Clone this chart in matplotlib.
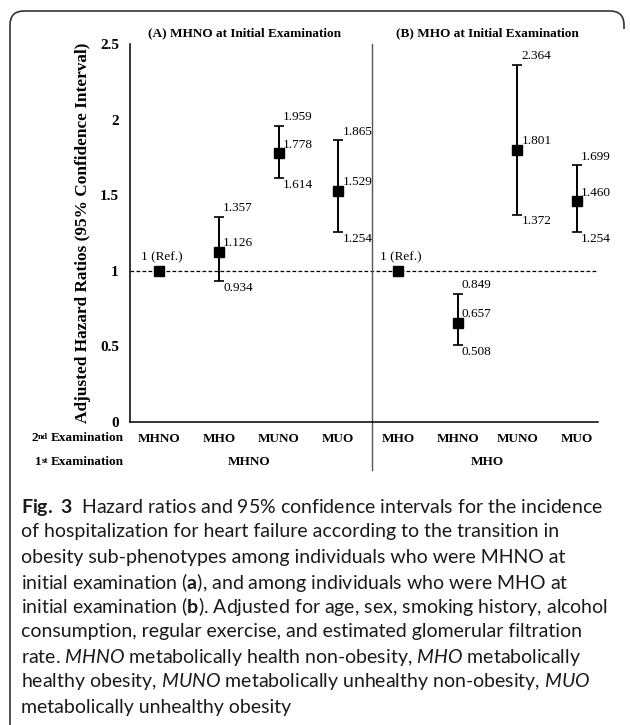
import matplotlib
matplotlib.use('Agg')
import matplotlib.pyplot as plt
from matplotlib.path import Path
from matplotlib.patches import PathPatch

plt.rcParams['font.family'] = 'Liberation Serif'
plt.rcParams['mathtext.fontset'] = 'custom'
plt.rcParams['mathtext.rm'] = 'Lato'
plt.rcParams['mathtext.it'] = 'Lato:italic'
plt.rcParams['mathtext.bf'] = 'Lato:bold'

# data
second_exam = ['MHNO', 'MHO', 'MUNO', 'MUO', 'MHO', 'MHNO', 'MUNO', 'MUO']
first_exam = ['MHNO', 'MHO']
panel_titles = ['(A) MHNO at Initial Examination', '(B) MHO at Initial Examination']
hr = [1.0, 1.126, 1.778, 1.529, 1.0, 0.657, 1.801, 1.460]
ci_low = [1.0, 0.934, 1.614, 1.254, 1.0, 0.508, 1.372, 1.254]
ci_high = [1.0, 1.357, 1.959, 1.865, 1.0, 0.849, 2.364, 1.699]
is_ref = [True, False, False, False, True, False, False, False]

W, H = 630, 725
fig = plt.figure(figsize=(W/100, H/100), dpi=100)

def fx(px):
    return px / W

def fy(py):
    return 1 - py / H

ax = fig.add_axes([fx(130), fy(422), fx(598) - fx(130), fy(44) - fy(422)])
ax.set_xlim(-0.49, 7.35)
ax.set_ylim(0, 2.5)

x = list(range(len(hr)))
ax.axhline(1, color='black', lw=0.9, ls=(0, (3, 1.8)), zorder=1)

for i in x:
    if is_ref[i]:
        ax.plot(i, hr[i], 's', color='black', ms=6.5, zorder=3)
        ax.annotate('1 (Ref.)', (i, hr[i]), xytext=(2, 10), textcoords='offset points',
                    ha='center', va='center', fontsize=9.5)
    else:
        ax.errorbar(i, hr[i], yerr=[[hr[i] - ci_low[i]], [ci_high[i] - hr[i]]],
                    fmt='s', color='black', ms=6.5, elinewidth=1.4, capsize=3.5,
                    capthick=1.2, zorder=3)
        ax.annotate('%.3f' % ci_high[i], (i, ci_high[i]), xytext=(3, 6),
                    textcoords='offset points', ha='left', va='center', fontsize=9.5)
        ax.annotate('%.3f' % hr[i], (i, hr[i]), xytext=(3, 6),
                    textcoords='offset points', ha='left', va='center', fontsize=9.5)
        ax.annotate('%.3f' % ci_low[i], (i, ci_low[i]), xytext=(3, -5),
                    textcoords='offset points', ha='left', va='center', fontsize=9.5)

# divider between the two panels
ax.plot([3.57, 3.57], [2.5, -0.32], color='#555555', lw=1, clip_on=False)

for s in ['top', 'right']:
    ax.spines[s].set_visible(False)
ax.spines['left'].set_linewidth(1.1)
ax.spines['bottom'].set_linewidth(1.1)
ax.set_xticks([])
ax.set_yticks([0, 0.5, 1, 1.5, 2, 2.5])
ax.set_yticklabels(['0', '0.5', '1', '1.5', '2', '2.5'], fontweight='bold', fontsize=11)
ax.tick_params(axis='y', length=0, pad=8)
ax.set_ylabel('Adjusted Hazard Ratios (95% Confidence Interval)', fontweight='bold',
              fontsize=12.4, labelpad=6)

# category rows under the axis
for i, lab in enumerate(second_exam):
    ax.annotate(lab, (i, 0), xytext=(0, -12), textcoords='offset points',
                ha='center', va='center', fontweight='bold', fontsize=9.5)
for j, lab in enumerate(first_exam):
    ax.annotate(lab, (1.5 + 4 * j, 0), xytext=(0, -29), textcoords='offset points',
                ha='center', va='center', fontweight='bold', fontsize=9.5)

for y_px, num, sup in [(438, '2', 'nd'), (462, '1', 'st')]:
    t1 = fig.text(fx(124), fy(y_px), 'Examination', ha='right', va='center',
                  fontweight='bold', fontsize=9.5)
    t2 = ax.annotate(sup, xy=(0, 0.95), xycoords=t1, xytext=(-2.2, 0),
                     textcoords='offset points', ha='right', va='top',
                     fontweight='bold', fontsize=6.5)
    ax.annotate(num, xy=(0, 0), xycoords=(t2, t1), ha='right', va='bottom',
                fontweight='bold', fontsize=9.5)

fig.text(fx(244), fy(33), panel_titles[0], ha='center', va='center',
         fontweight='bold', fontsize=9.5)
fig.text(fx(487), fy(33), panel_titles[1], ha='center', va='center',
         fontweight='bold', fontsize=9.5)

# caption
caption = [
    r'$\bf{Fig.\ 3}$  Hazard ratios and 95% confidence intervals for the incidence',
    'of hospitalization for heart failure according to the transition in',
    'obesity sub-phenotypes among individuals who were MHNO at',
    r'initial examination ($\bf{a}$), and among individuals who were MHO at',
    r'initial examination ($\bf{b}$). Adjusted for age, sex, smoking history, alcohol',
    'consumption, regular exercise, and estimated glomerular filtration',
    r'rate. $\it{MHNO}$ metabolically health non-obesity, $\it{MHO}$ metabolically',
    r'healthy obesity, $\it{MUNO}$ metabolically unhealthy non-obesity, $\it{MUO}$',
    'metabolically unhealthy obesity',
]
for k, line in enumerate(caption):
    fig.text(fx(21), fy(507 + 25 * k), line, ha='left', va='center',
             family='Lato', fontsize=14, color='#1a1a1a')

# rounded frame around the figure
r = 14
verts = [(10, 725), (10, 11 + r), (10, 11), (10 + r, 11), (624 - r, 11), (624, 11),
         (624, 11 + r), (624, 11 + r + 4)]
codes = [Path.MOVETO, Path.LINETO, Path.CURVE3, Path.CURVE3, Path.LINETO,
         Path.CURVE3, Path.CURVE3, Path.LINETO]
verts = [(fx(a), fy(b)) for a, b in verts]
fig.add_artist(PathPatch(Path(verts, codes), transform=fig.transFigure,
                         fill=False, edgecolor='#333333', lw=1.2))

fig.savefig('out.png', dpi=100)
